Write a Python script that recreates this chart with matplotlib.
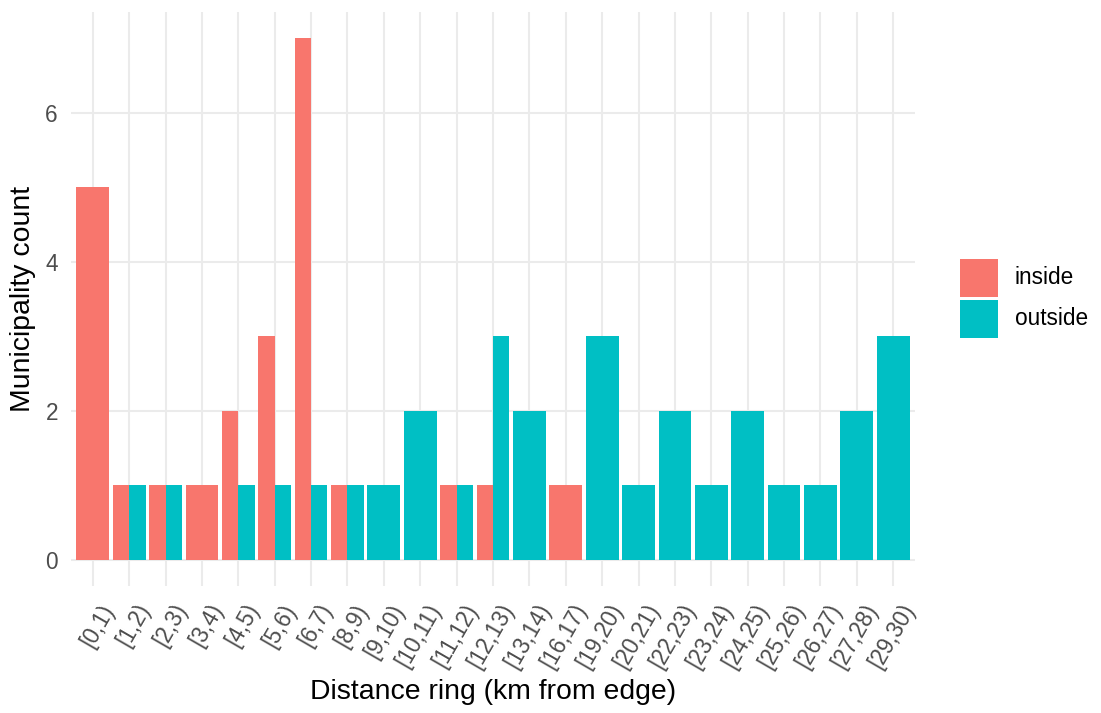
import matplotlib
matplotlib.use("Agg")
import matplotlib.pyplot as plt
from matplotlib.patches import Rectangle
from matplotlib.transforms import ScaledTranslation
import numpy as np

plt.rcParams['font.family'] = ['Liberation Sans', 'DejaVu Sans']

categories = ["[0,1)", "[1,2)", "[2,3)", "[3,4)", "[4,5)", "[5,6)", "[6,7)", "[8,9)",
              "[9,10)", "[10,11)", "[11,12)", "[12,13)", "[13,14)", "[16,17)", "[19,20)",
              "[20,21)", "[22,23)", "[23,24)", "[24,25)", "[25,26)", "[26,27)", "[27,28)", "[29,30)"]
# None = group absent in that ring
inside = [5, 1, 1, 1, 2, 3, 7, 1, None, None, 1, 1, None, 1, None,
          None, None, None, None, None, None, None, None]
outside = [None, 1, 1, None, 1, 1, 1, 1, 1, 2, 1, 3, 2, None, 3,
           1, 2, 1, 2, 1, 1, 2, 3]
groups = ["inside", "outside"]
colors = ["#F8766D", "#00BFC4"]

FW, FH = 1101, 713
fig = plt.figure(figsize=(FW / 100, FH / 100), dpi=100)
ax = fig.add_axes([71 / FW, 1 - 586 / FH, (915 - 71) / FW, (586 - 12) / FH])

W = 0.9
for i, (a, b) in enumerate(zip(inside, outside)):
    x = i + 1
    if a is not None and b is not None:
        ax.bar(x - W / 4, a, width=W / 2, color=colors[0], zorder=2, linewidth=0)
        ax.bar(x + W / 4, b, width=W / 2, color=colors[1], zorder=2, linewidth=0)
    elif a is not None:
        ax.bar(x, a, width=W, color=colors[0], zorder=2, linewidth=0)
    elif b is not None:
        ax.bar(x, b, width=W, color=colors[1], zorder=2, linewidth=0)

n = len(categories)
ax.set_xlim(0.4, n + 0.6)
ax.set_ylim(-0.35, 7.35)
ax.set_xticks(np.arange(1, n + 1))
ax.set_xticklabels(categories, rotation=60, ha='right', va='top', rotation_mode='anchor')
ax.set_yticks([0, 2, 4, 6])
ax.grid(True, color="#EBEBEB", linewidth=1.5, zorder=0)
ax.set_axisbelow(True)
for s in ax.spines.values():
    s.set_visible(False)
ax.tick_params(length=0, labelsize=16.3, labelcolor="#4D4D4D")
ax.tick_params(axis='x', pad=10)
ax.tick_params(axis='y', pad=9.4)
off = ScaledTranslation(0.06, 0, fig.dpi_scale_trans)
for lab in ax.get_xticklabels():
    lab.set_transform(lab.get_transform() + off)

ax.set_xlabel("Distance ring (km from edge)", fontsize=20.4)
ax.xaxis.set_label_coords(0.5, (586 - 692) / 574)
ax.xaxis.label.set_va('center')
ax.set_ylabel("Municipality count", fontsize=20.4)
ax.yaxis.set_label_coords((23 - 71) / 844, 0.5)
ax.yaxis.label.set_va('center')

# legend
key_tops = [259, 300]
for g, c, top in zip(groups, colors, key_tops):
    fig.add_artist(Rectangle((960 / FW, 1 - (top + 38) / FH), 38 / FW, 38 / FH,
                             transform=fig.transFigure, facecolor=c, edgecolor='none'))
    fig.text(1015 / FW, 1 - (top + 19) / FH, g, fontsize=16.3, va='center', ha='left')

fig.savefig("out.png", dpi=100)
